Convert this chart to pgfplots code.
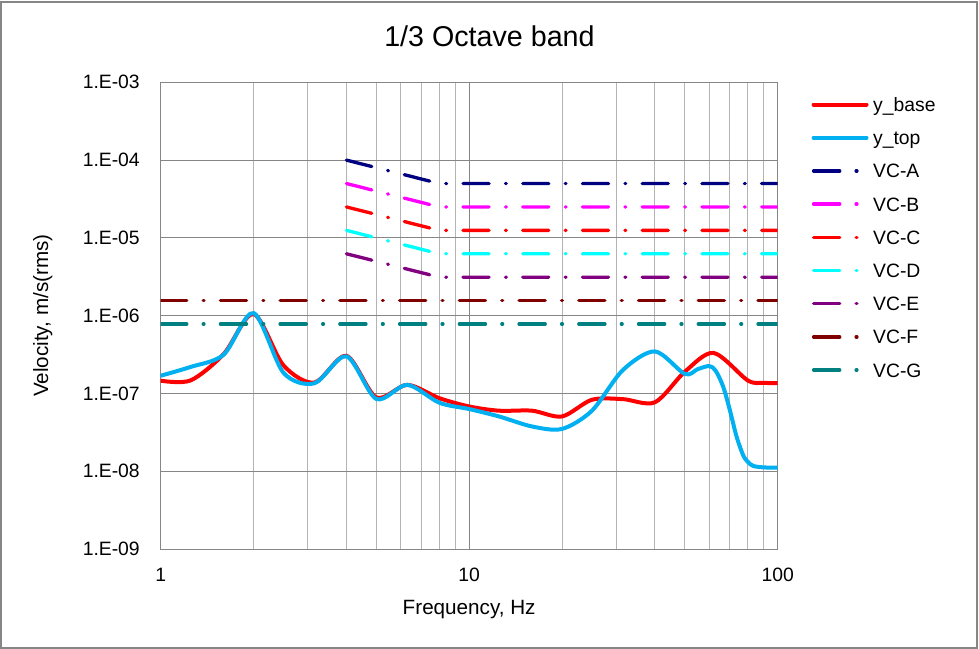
\documentclass[border=0pt]{standalone}
\usepackage{fontspec}
\setmainfont{Liberation Sans}
\usepackage{pgfplots}
\pgfplotsset{compat=1.18}
\definecolor{gridmaj}{HTML}{868686}
\definecolor{gridmin}{HTML}{B4B4B4}
\definecolor{ybase}{HTML}{FF0000}
\definecolor{ytop}{HTML}{00B0F0}
\definecolor{vca}{HTML}{000080}
\definecolor{vcb}{HTML}{FF00FF}
\definecolor{vcc}{HTML}{FF0000}
\definecolor{vcd}{HTML}{00FFFF}
\definecolor{vce}{HTML}{800080}
\definecolor{vcf}{HTML}{800000}
\definecolor{vcg}{HTML}{008080}
\tikzset{vcdash/.style={line width=2.5pt, line cap=round, dash pattern=on 19.6pt off 12.3pt on 0.6pt off 12.3pt}}
\begin{document}
\begin{tikzpicture}
% outer chart frame (px * 0.75pt)
\useasboundingbox (0,0) rectangle (734.25pt,486.75pt);
\draw[gridmaj, line width=1.5pt] (1.1pt,1.1pt) rectangle (733.1pt,485.6pt);
\node[anchor=base, inner sep=0pt, font=\fontsize{21.5}{25}\selectfont] at (367.1pt,451.7pt) {1/3 Octave band};
\begin{axis}[
  at={(120.5pt,75pt)}, anchor=south west,
  scale only axis, width=462.75pt, height=350pt,
  xmode=log, ymode=log,
  xmin=1, xmax=100, ymin=1e-9, ymax=1e-3,
  xtick={1,10,100}, xticklabels={1,10,100},
  minor xtick={2,3,4,5,6,7,8,9,20,30,40,50,60,70,80,90},
  ytick={1e-9,1e-8,1e-7,1e-6,1e-5,1e-4,1e-3},
  yticklabels={1.E-09,1.E-08,1.E-07,1.E-06,1.E-05,1.E-04,1.E-03},
  xmajorgrids, xminorgrids, ymajorgrids,
  major grid style={gridmaj, line width=0.75pt},
  minor grid style={gridmin, line width=0.75pt},
  axis line style={gridmaj, line width=0.75pt},
  major tick length=0pt, minor tick length=0pt,
  tick style={draw=none},
  tick label style={font=\fontsize{14.5}{17}\selectfont, inner sep=0pt},
  yticklabel style={anchor=east, xshift=-15.5pt},
  xticklabel style={anchor=north, yshift=-14.25pt},
  xlabel={Frequency, Hz},
  ylabel={Velocity, m/s(rms)},
  label style={font=\fontsize{15.5}{18}\selectfont, inner sep=0pt},
  xlabel style={at={(axis description cs:0.5,0)}, anchor=north, yshift=-38.25pt},
  ylabel style={at={(axis description cs:-0.191,0.5)}, anchor=center, rotate=0},
  legend cell align=left,
  legend image code/.code={\draw[#1] (0pt,0pt) -- (39.7pt,0pt);},
  legend style={draw=none, fill=none, at={(1.055,0.9732)}, anchor=north west,
    inner sep=0pt, outer sep=0pt, row sep=10.4pt, column sep=3.5pt,
    nodes={inner sep=0pt, text height=12.5pt, text depth=2pt, font=\fontsize{14.5}{17}\selectfont}},
]
\addplot[ybase, line width=3pt, line cap=round, smooth] coordinates {
(1,1.46e-7)(1.25,1.47e-7)(1.6,3.2e-7)(2,1.05e-6)(2.5,2.3e-7)(3.15,1.38e-7)(4,3.05e-7)(5,8.9e-8)(6.3,1.29e-7)(8,8.7e-8)(10,6.8e-8)(12.5,6.0e-8)(16,6.0e-8)(20,5.06e-8)(25,8.3e-8)(31.5,8.45e-8)(40,7.7e-8)(50,1.9e-7)(62,3.32e-7)(80,1.47e-7)(90,1.37e-7)(100,1.36e-7)};
\addlegendentry{y\_base}
\addplot[ytop, line width=3pt, line cap=round, smooth] coordinates {
(1,1.69e-7)(1.25,2.19e-7)(1.6,3.15e-7)(2,1.08e-6)(2.5,1.85e-7)(3.15,1.35e-7)(4,3.0e-7)(5,8.5e-8)(6.3,1.29e-7)(8,7.6e-8)(10,6.3e-8)(12.5,5.06e-8)(16,3.76e-8)(20,3.5e-8)(25,6.0e-8)(31.5,2.0e-7)(40,3.47e-7)(50,1.78e-7)(55,2.05e-7)(60,2.25e-7)(63,1.95e-7)(66.6,1.22e-7)(70,6.1e-8)(73.6,2.78e-8)(77.3,1.61e-8)(80,1.32e-8)(83.3,1.17e-8)(90,1.12e-8)(100,1.11e-8)};
\addlegendentry{y\_top}
\addplot[vca, vcdash] coordinates {(4,1e-4)(8,5e-5)(100,5e-5)};
\addlegendentry{VC-A}
\addplot[vcb, vcdash] coordinates {(4,5e-5)(8,2.5e-5)(100,2.5e-5)};
\addlegendentry{VC-B}
\addplot[vcc, vcdash] coordinates {(4,2.5e-5)(8,1.25e-5)(100,1.25e-5)};
\addlegendentry{VC-C}
\addplot[vcd, vcdash] coordinates {(4,1.25e-5)(8,6.25e-6)(100,6.25e-6)};
\addlegendentry{VC-D}
\addplot[vce, vcdash] coordinates {(4,6.25e-6)(8,3.125e-6)(100,3.125e-6)};
\addlegendentry{VC-E}
\addplot[vcf, vcdash] coordinates {(1,1.5625e-6)(100,1.5625e-6)};
\addlegendentry{VC-F}
\addplot[vcg, vcdash] coordinates {(1,7.8125e-7)(100,7.8125e-7)};
\addlegendentry{VC-G}
\end{axis}
\end{tikzpicture}
\end{document}
